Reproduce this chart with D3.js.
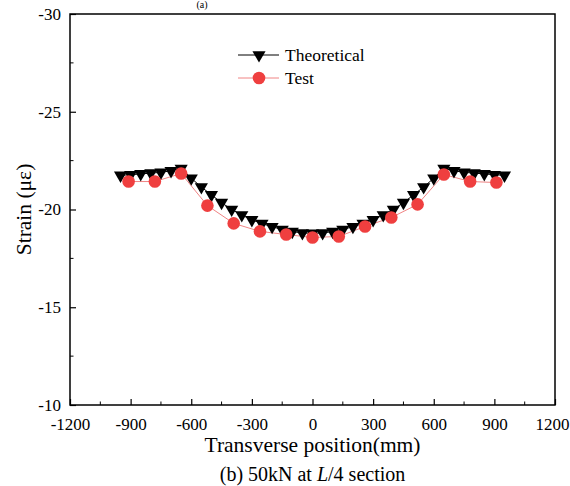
<!DOCTYPE html>
<html>
<head>
<meta charset="utf-8">
<script src="https://cdn.jsdelivr.net/npm/d3@7"></script>
<style>
  body { margin: 0; background: #fff; }
  svg text { font-family: "Liberation Serif", "Times New Roman", serif; fill: #000; }
</style>
</head>
<body>
<div id="chart"></div>
<script>
// theoretical curve, x every 50 mm
var theoX = d3.range(-950, 951, 50);
var theoLeft = [-21.75, -21.78, -21.82, -21.86, -21.9, -21.98, -22.1, -21.6, -21.15, -20.75,
  -20.35, -20.0, -19.72, -19.47, -19.28, -19.12, -18.98, -18.87, -18.8];
var theoY = theoLeft.concat([-18.78], theoLeft.slice().reverse());

// test points
var testX = [-910, -780, -650, -520, -390, -260, -130, 0, 130, 260, 390, 520, 650, 780, 910];
var testY = [-21.43, -21.43, -21.84, -20.2, -19.29, -18.88, -18.72, -18.57, -18.62, -19.13,
  -19.59, -20.26, -21.79, -21.43, -21.38];

var xTicks = [-1200, -900, -600, -300, 0, 300, 600, 900, 1200];
var yTicks = [-30, -25, -20, -15, -10];

var W = 570, H = 486,
  margin = { top: 14, right: 15, bottom: 81, left: 70 },
  width = W - margin.left - margin.right,
  height = H - margin.top - margin.bottom;

var svg = d3.select("#chart").append("svg").attr("width", W).attr("height", H);
var g = svg.append("g").attr("transform", "translate(" + margin.left + "," + margin.top + ")");

var x = d3.scaleLinear().domain([-1200, 1200]).range([0, width]);
var y = d3.scaleLinear().domain([-30, -10]).range([0, height]);
var fmt = function (d) { return String(d); };

// frame
g.append("rect").attr("width", width).attr("height", height)
  .attr("fill", "none").attr("stroke", "#000").attr("stroke-width", 1.5);

// bottom axis, ticks inward
var xAxis = g.append("g").attr("transform", "translate(0," + height + ")")
  .call(d3.axisBottom(x).tickValues(xTicks).tickSize(-6).tickPadding(13).tickFormat(fmt));
xAxis.append("g").selectAll("line").data(d3.range(-1050, 1200, 300)).enter().append("line")
  .attr("x1", x).attr("x2", x).attr("y1", 0).attr("y2", -3.5).attr("stroke", "#000");

var yAxis = g.append("g")
  .call(d3.axisLeft(y).tickValues(yTicks).tickSize(-6).tickPadding(9).tickFormat(fmt));
yAxis.append("g").selectAll("line").data([-27.5, -22.5, -17.5, -12.5]).enter().append("line")
  .attr("y1", y).attr("y2", y).attr("x1", 0).attr("x2", 3.5).attr("stroke", "#000");

[xAxis, yAxis].forEach(function (a) {
  a.attr("font-family", "Liberation Serif").attr("font-size", 17);
  a.select(".domain").remove();
  a.selectAll(".tick line").attr("stroke", "#000").attr("stroke-width", 1.2);
  a.selectAll("text").attr("fill", "#000");
});
// keep the last label inside the window
xAxis.selectAll(".tick text").filter(function (d) { return d === 1200; }).attr("dx", -3);

// lines
var theo = theoX.map(function (d, i) { return [d, theoY[i]]; });
var test = testX.map(function (d, i) { return [d, testY[i]]; });
var line = d3.line().x(function (d) { return x(d[0]); }).y(function (d) { return y(d[1]); });

g.append("path").datum(theo).attr("d", line).attr("fill", "none").attr("stroke", "#000").attr("stroke-width", 1);
g.append("path").datum(test).attr("d", line).attr("fill", "none").attr("stroke", "#f08484").attr("stroke-width", 1);

var tri = d3.symbol().type(d3.symbolTriangle).size(75);
g.selectAll(".tri").data(theo).enter().append("path")
  .attr("d", tri)
  .attr("transform", function (d) { return "translate(" + x(d[0]) + "," + y(d[1]) + ") rotate(180)"; })
  .attr("fill", "#000");

g.selectAll(".dot").data(test).enter().append("circle")
  .attr("cx", function (d) { return x(d[0]); })
  .attr("cy", function (d) { return y(d[1]); })
  .attr("r", 6.3).attr("fill", "#ef3f3f");

// legend
var lg = svg.append("g");
lg.append("line").attr("x1", 238).attr("x2", 279).attr("y1", 55).attr("y2", 55).attr("stroke", "#000");
lg.append("path").attr("d", tri).attr("transform", "translate(259,55) rotate(180)").attr("fill", "#000");
lg.append("text").attr("x", 285).attr("y", 61).style("font-size", "17.5px").text("Theoretical");
lg.append("line").attr("x1", 238).attr("x2", 279).attr("y1", 78).attr("y2", 78).attr("stroke", "#f08484");
lg.append("circle").attr("cx", 259).attr("cy", 78).attr("r", 6.3).attr("fill", "#ef3f3f");
lg.append("text").attr("x", 285).attr("y", 84).style("font-size", "17.5px").text("Test");

// titles
svg.append("text").attr("x", margin.left + width / 2).attr("y", 452).attr("text-anchor", "middle")
  .style("font-size", "21.5px").text("Transverse position(mm)");
svg.append("text").attr("transform", "translate(31," + (margin.top + height / 2) + ") rotate(-90)")
  .attr("text-anchor", "middle").style("font-size", "21.5px").text("Strain (με)");
var cap = svg.append("text").attr("x", margin.left + width / 2).attr("y", 481).attr("text-anchor", "middle")
  .style("font-size", "20px");
cap.append("tspan").text("(b) 50kN at ");
cap.append("tspan").style("font-style", "italic").text("L");
cap.append("tspan").text("/4 section");

// caption remnant at very top
svg.append("text").attr("x", 202).attr("y", 8).attr("text-anchor", "middle").style("font-size", "10px").text("(a)");
</script>
</body>
</html>
